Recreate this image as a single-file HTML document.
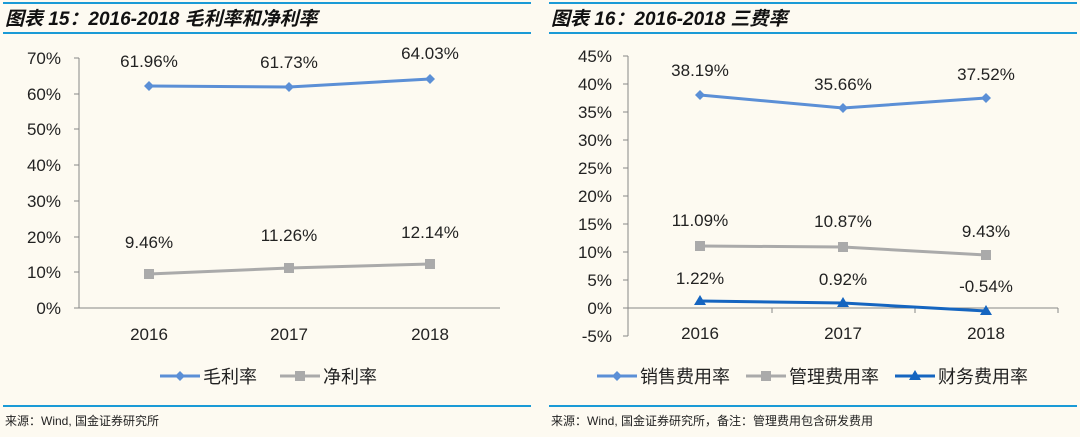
<!DOCTYPE html>
<html><head><meta charset="utf-8"><style>
html,body{margin:0;padding:0;background:#fdfaf1;}
svg{display:block;font-family:"Liberation Sans","Noto Sans CJK SC",sans-serif;}
</style></head><body>
<svg width="1080" height="437" viewBox="0 0 1080 437">
<rect width="1080" height="437" fill="#fdfaf1"/>
<g stroke="#1a9ad6" stroke-width="2">
<line x1="3" y1="3" x2="531" y2="3"/><line x1="3" y1="33" x2="531" y2="33"/>
<line x1="549" y1="3" x2="1077" y2="3"/><line x1="549" y1="33" x2="1077" y2="33"/>
<line x1="3" y1="406" x2="531" y2="406"/><line x1="549" y1="406" x2="1077" y2="406"/>
</g>
<g font-style="italic" font-weight="bold" font-size="19" fill="#111">
<text x="5" y="25">图表 15：2016-2018 毛利率和净利率</text>
<text x="551" y="25">图表 16：2016-2018 三费率</text>
</g>
<g font-size="12" fill="#222">
<text x="5" y="425">来源：Wind, 国金证券研究所</text>
<text x="551" y="425">来源：Wind, 国金证券研究所，备注：管理费用包含研发费用</text>
</g>
<!-- left chart -->
<g stroke="#888" stroke-width="1">
<line x1="79" y1="58" x2="79" y2="308"/>
<line x1="74" y1="58" x2="79" y2="58"/><line x1="74" y1="94" x2="79" y2="94"/><line x1="74" y1="129" x2="79" y2="129"/>
<line x1="74" y1="165" x2="79" y2="165"/><line x1="74" y1="201" x2="79" y2="201"/><line x1="74" y1="237" x2="79" y2="237"/>
<line x1="74" y1="272" x2="79" y2="272"/><line x1="74" y1="308" x2="79" y2="308"/>
<line x1="79" y1="308" x2="500" y2="308"/>
</g>
<g font-size="17" fill="#222" text-anchor="end">
<text x="61" y="64">70%</text><text x="61" y="100">60%</text><text x="61" y="135">50%</text>
<text x="61" y="171">40%</text><text x="61" y="207">30%</text><text x="61" y="243">20%</text>
<text x="61" y="278">10%</text><text x="61" y="314">0%</text>
</g>
<g font-size="17" fill="#222" text-anchor="middle">
<text x="149" y="340">2016</text><text x="289" y="340">2017</text><text x="430" y="340">2018</text>
<text x="149" y="67">61.96%</text><text x="289" y="68">61.73%</text><text x="430" y="59">64.03%</text>
<text x="149" y="248">9.46%</text><text x="289" y="241">11.26%</text><text x="430" y="238">12.14%</text>
</g>
<polyline points="149,86 289,87 430,79" fill="none" stroke="#5b8fd6" stroke-width="3"/>
<g fill="#5b8fd6"><path d="M149,81l5,5-5,5-5-5z"/><path d="M289,82l5,5-5,5-5-5z"/><path d="M430,74l5,5-5,5-5-5z"/></g>
<polyline points="149,274 289,268 430,264" fill="none" stroke="#aaa" stroke-width="3"/>
<g fill="#aaa"><rect x="144" y="269" width="10" height="10"/><rect x="284" y="263" width="10" height="10"/><rect x="425" y="259" width="10" height="10"/></g>
<g font-size="18" fill="#222">
<line x1="160" y1="376" x2="200" y2="376" stroke="#5b8fd6" stroke-width="3"/><path d="M180,371l5,5-5,5-5-5z" fill="#5b8fd6"/>
<text x="203" y="383">毛利率</text>
<line x1="280" y1="376" x2="320" y2="376" stroke="#aaa" stroke-width="3"/><rect x="295" y="371" width="10" height="10" fill="#aaa"/>
<text x="323" y="383">净利率</text>
</g>
<!-- right chart -->
<g stroke="#888" stroke-width="1">
<line x1="628" y1="56" x2="628" y2="336"/>
<line x1="623" y1="56" x2="628" y2="56"/><line x1="623" y1="84" x2="628" y2="84"/><line x1="623" y1="112" x2="628" y2="112"/>
<line x1="623" y1="140" x2="628" y2="140"/><line x1="623" y1="168" x2="628" y2="168"/><line x1="623" y1="196" x2="628" y2="196"/>
<line x1="623" y1="224" x2="628" y2="224"/><line x1="623" y1="252" x2="628" y2="252"/><line x1="623" y1="280" x2="628" y2="280"/>
<line x1="623" y1="308" x2="628" y2="308"/><line x1="623" y1="336" x2="628" y2="336"/>
<line x1="628" y1="308" x2="1058" y2="308"/>
<line x1="772" y1="308" x2="772" y2="313"/><line x1="915" y1="308" x2="915" y2="313"/><line x1="1058" y1="308" x2="1058" y2="313"/>
</g>
<g font-size="17" fill="#222" text-anchor="end">
<text x="612" y="62">45%</text><text x="612" y="90">40%</text><text x="612" y="118">35%</text>
<text x="612" y="146">30%</text><text x="612" y="174">25%</text><text x="612" y="202">20%</text>
<text x="612" y="230">15%</text><text x="612" y="258">10%</text><text x="612" y="286">5%</text>
<text x="612" y="314">0%</text><text x="612" y="342">-5%</text>
</g>
<g font-size="17" fill="#222" text-anchor="middle">
<text x="700" y="339">2016</text><text x="843" y="339">2017</text><text x="986" y="339">2018</text>
<text x="700" y="76">38.19%</text><text x="843" y="90">35.66%</text><text x="986" y="80">37.52%</text>
<text x="700" y="226">11.09%</text><text x="843" y="227">10.87%</text><text x="986" y="237">9.43%</text>
<text x="700" y="284">1.22%</text><text x="843" y="285">0.92%</text><text x="986" y="292">-0.54%</text>
</g>
<polyline points="700,95 843,108 986,98" fill="none" stroke="#5b8fd6" stroke-width="3"/>
<g fill="#5b8fd6"><path d="M700,90l5,5-5,5-5-5z"/><path d="M843,103l5,5-5,5-5-5z"/><path d="M986,93l5,5-5,5-5-5z"/></g>
<polyline points="700,246 843,247 986,255" fill="none" stroke="#aaa" stroke-width="3"/>
<g fill="#aaa"><rect x="695" y="241" width="10" height="10"/><rect x="838" y="242" width="10" height="10"/><rect x="981" y="250" width="10" height="10"/></g>
<polyline points="700,301 843,303 986,311" fill="none" stroke="#1565c0" stroke-width="3"/>
<g fill="#1565c0"><path d="M700,295l6,10h-12z"/><path d="M843,297l6,10h-12z"/><path d="M986,305l6,10h-12z"/></g>
<g font-size="18" fill="#222">
<line x1="597" y1="376" x2="637" y2="376" stroke="#5b8fd6" stroke-width="3"/><path d="M617,371l5,5-5,5-5-5z" fill="#5b8fd6"/>
<text x="640" y="383">销售费用率</text>
<line x1="746" y1="376" x2="786" y2="376" stroke="#aaa" stroke-width="3"/><rect x="761" y="371" width="10" height="10" fill="#aaa"/>
<text x="789" y="383">管理费用率</text>
<line x1="895" y1="376" x2="935" y2="376" stroke="#1565c0" stroke-width="3"/><path d="M915,370l6,10h-12z" fill="#1565c0"/>
<text x="938" y="383">财务费用率</text>
</g>
</svg>
</body></html>
